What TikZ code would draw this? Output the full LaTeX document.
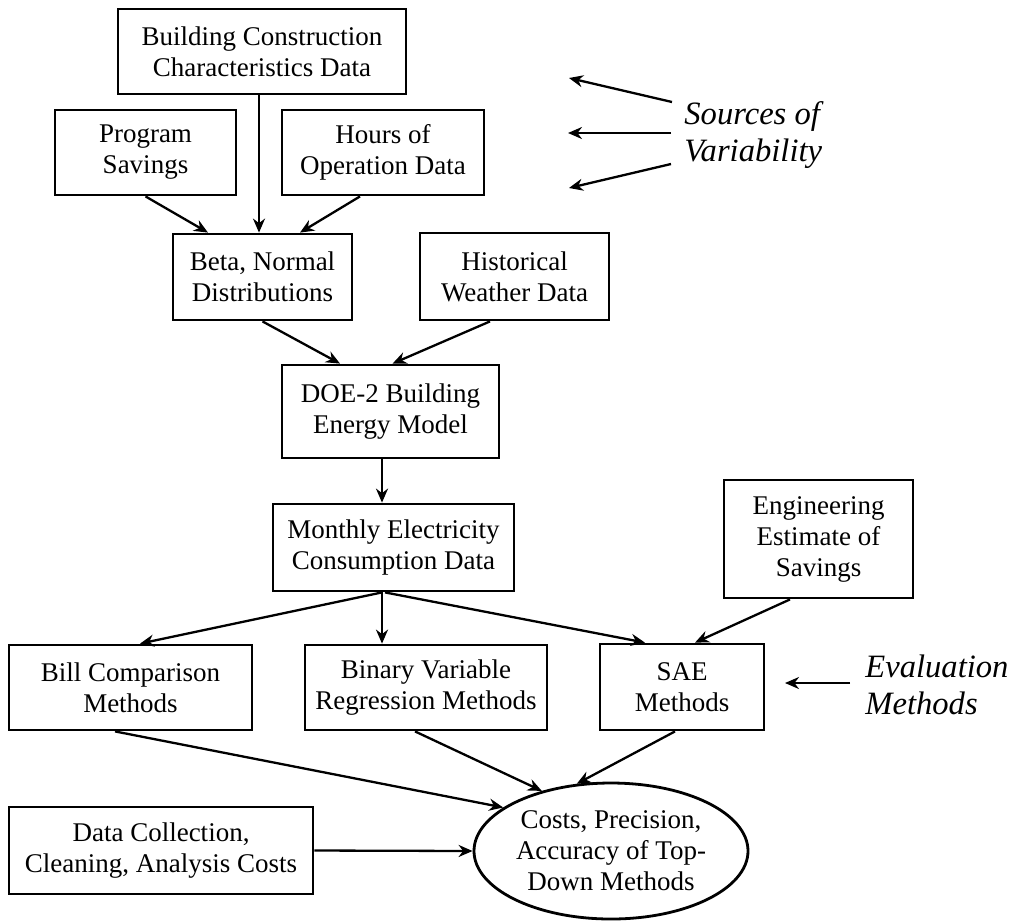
\documentclass[tikz,border=0pt]{standalone}
\usepackage{fontspec}
\setmainfont{Liberation Serif}
\usetikzlibrary{arrows.meta,shapes.geometric,calc}

\begin{document}
\begin{tikzpicture}[
        x=0.5pt, y=-0.5pt,
        bx/.style 2 args={draw, rectangle, line width=1.4pt, inner sep=0pt, minimum width=#1*0.5pt, minimum height=#2*0.5pt, align=center, font=\fontsize{13.5}{15.5}\selectfont},
        oval/.style={draw, ellipse, line width=1.4pt, inner sep=0pt, minimum width=137pt, minimum height=68pt, align=center, font=\fontsize{13.5}{15.5}\selectfont},
        note/.style={anchor=west, align=left, inner sep=0pt, font=\fontsize{16.3}{18.5}\selectfont\itshape},
        ar/.style={-{Stealth[length=7pt, width=6pt]}, line width=1.15pt}
    ]
        \useasboundingbox (0,0) rectangle (1010,922);
        \node (bcc) [bx={288}{85}] at (262,51.5) {Building Construction\\Characteristics Data};
        \node (prog) [bx={181}{85}] at (145.5,152.5) {Program\\Savings};
        \node (hours) [bx={202}{85}] at (383,152.5) {Hours of\\Operation Data};
        \node (beta) [bx={179}{86}] at (262.5,277) {Beta, Normal\\Distributions};
        \node (hist) [bx={189}{87}] at (514.5,276.5) {Historical\\Weather Data};
        \node (doe) [bx={217}{93}] at (390.5,411.5) {DOE-2 Building\\Energy Model};
        \node (month) [bx={241}{87}] at (393.5,547.5) {Monthly Electricity\\Consumption Data};
        \node (eng) [bx={189}{118}] at (818.5,539) {Engineering\\Estimate of\\Savings};
        \node (bill) [bx={243}{85}] at (130.5,687.5) {Bill Comparison\\Methods};
        \node (binary) [bx={242}{85}] at (426,687.5) {Binary Variable\\Regression Methods};
        \node (sae) [bx={164}{86}] at (682,687) {SAE\\Methods};
        \node (dcc) [bx={304}{87}] at (161,850.5) {Data Collection,\\Cleaning, Analysis Costs};
        \node (ell) [oval] at (611,851) {Costs, Precision,\\Accuracy of Top-\\Down Methods};
        \node (src) [note] at (684,135) {Sources of\\Variability};
        \node (eval) [note] at (865,685) {Evaluation\\Methods};
        \coordinate (s1) at (672,102);
        \coordinate (t1) at (569,78);
        \coordinate (s2) at (671,133);
        \coordinate (t2) at (568,133);
        \coordinate (s3) at (671,164);
        \coordinate (t3) at (569,188);
        \coordinate (s4) at (850,683);
        \coordinate (t4) at (785,683);
        \draw[ar] (prog.south) -- ($(beta.north)+(-54.5,0)$);
        \draw[ar] ($(bcc.south)+(-3,0)$) -- ($(beta.north)+(-3.5,0)$);
        \draw[ar] ($(hours.south)+(-23,0)$) -- ($(beta.north)+(37.5,0)$);
        \draw[ar] (beta.south) -- ($(doe.north)+(-50.5,0)$);
        \draw[ar] ($(hist.south)+(-24.5,0)$) -- ($(doe.north)+(2,0)$);
        \draw[ar] ($(doe.south)+(-8.5,0)$) -- ($(month.north)+(-11.5,0)$);
        \draw[ar] ($(month.south)+(-11.5,0)$) -- ($(bill.north)+(9.5,0)$);
        \draw[ar] ($(month.south)+(-11.5,0)$) -- ($(binary.north)+(-44,0)$);
        \draw[ar] ($(month.south)+(-8.5,0)$) -- ($(sae.north)+(-37,0)$);
        \draw[ar] ($(eng.south)+(-28.5,0)$) -- ($(sae.north)+(13,0)$);
        \draw[ar] ($(bill.south)+(-15.5,0)$) -- (ell.158);
        \draw[ar] ($(binary.south)+(-11,0)$) -- (ell.139);
        \draw[ar] ($(sae.south)+(-7,0)$) -- (ell.117);
        \draw[ar] (dcc.east) -- (ell.west);
        \draw[ar] (s1) -- (t1);
        \draw[ar] (s2) -- (t2);
        \draw[ar] (s3) -- (t3);
        \draw[ar] (s4) -- (t4);
    \end{tikzpicture}
\end{document}
